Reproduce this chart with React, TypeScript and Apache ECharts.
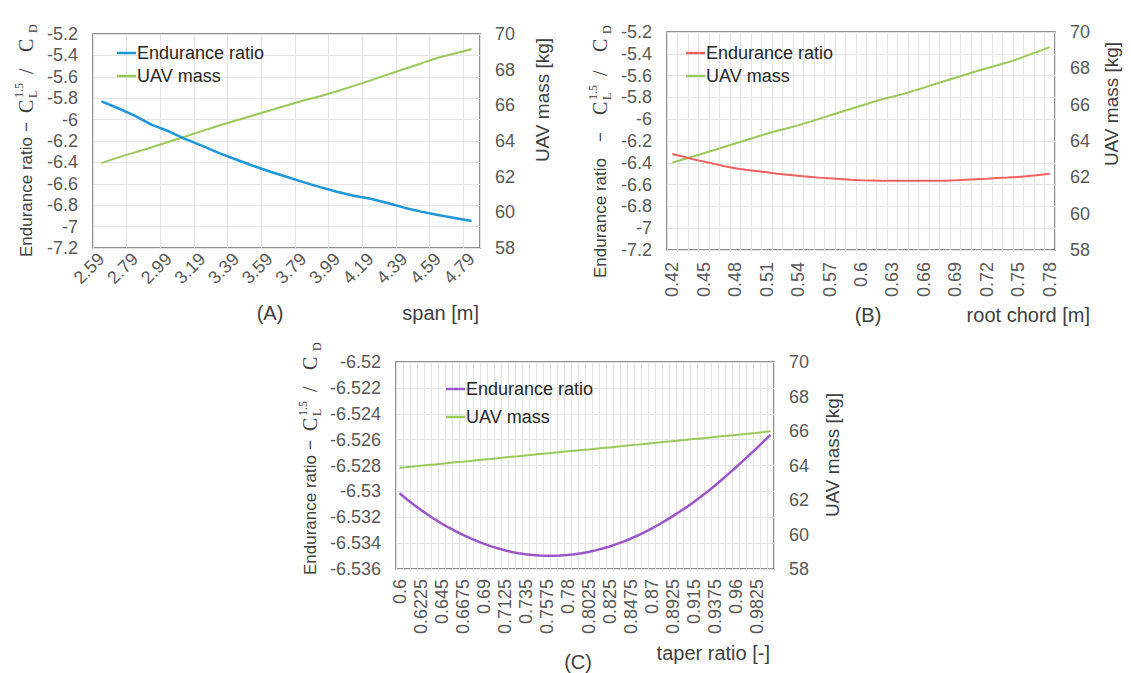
import React, { useEffect, useRef } from "react";
import * as echarts from "echarts";

// ---------- (A) span ----------
const spanCategories = [
  "2.59", "2.69", "2.79", "2.89", "2.99", "3.09", "3.19", "3.29", "3.39", "3.49", "3.59", "3.69",
  "3.79", "3.89", "3.99", "4.09", "4.19", "4.29", "4.39", "4.49", "4.59", "4.69", "4.79",
];
const spanEndurance = [
  -5.829, -5.894, -5.965, -6.049, -6.109, -6.183, -6.245, -6.314, -6.373, -6.431, -6.485, -6.534,
  -6.584, -6.631, -6.674, -6.711, -6.739, -6.78, -6.823, -6.86, -6.892, -6.92, -6.948,
];
const spanMass = [
  62.76, 63.08, 63.36, 63.65, 63.96, 64.25, 64.57, 64.87, 65.15, 65.43, 65.71, 65.99,
  66.27, 66.51, 66.79, 67.09, 67.4, 67.72, 68.04, 68.35, 68.67, 68.91, 69.16,
];

// ---------- (B) root chord ----------
const chordCategories = [
  "0.42", "0.43", "0.44", "0.45", "0.46", "0.47", "0.48", "0.49", "0.5", "0.51", "0.52", "0.53",
  "0.54", "0.55", "0.56", "0.57", "0.58", "0.59", "0.6", "0.61", "0.62", "0.63", "0.64", "0.65",
  "0.66", "0.67", "0.68", "0.69", "0.7", "0.71", "0.72", "0.73", "0.74", "0.75", "0.76", "0.77", "0.78",
];
const chordEndurance = [
  -6.319, -6.343, -6.367, -6.389, -6.41, -6.432, -6.45, -6.463, -6.475, -6.487, -6.5, -6.509,
  -6.518, -6.527, -6.536, -6.542, -6.548, -6.555, -6.56, -6.562, -6.564, -6.564, -6.564, -6.564,
  -6.564, -6.564, -6.564, -6.56, -6.555, -6.55, -6.546, -6.539, -6.535, -6.53, -6.521, -6.512, -6.5,
];
const chordMass = [
  62.81, 62.98, 63.15, 63.33, 63.5, 63.68, 63.86, 64.04, 64.22, 64.4, 64.56, 64.7,
  64.86, 65.04, 65.22, 65.4, 65.58, 65.76, 65.94, 66.12, 66.3, 66.44, 66.58, 66.76,
  66.94, 67.12, 67.3, 67.48, 67.66, 67.84, 68.0, 68.17, 68.33, 68.52, 68.74, 68.95, 69.17,
];

// ---------- (C) taper ratio ----------
const taperCategories = [
  "0.6", "0.6075", "0.615", "0.6225", "0.63", "0.6375", "0.645", "0.6525", "0.66", "0.6675",
  "0.675", "0.6825", "0.69", "0.6975", "0.705", "0.7125", "0.72", "0.7275", "0.735", "0.7425",
  "0.75", "0.7575", "0.765", "0.7725", "0.78", "0.7875", "0.795", "0.8025", "0.81", "0.8175",
  "0.825", "0.8325", "0.84", "0.8475", "0.855", "0.8625", "0.87", "0.8775", "0.885", "0.8925",
  "0.9", "0.9075", "0.915", "0.9225", "0.93", "0.9375", "0.945", "0.9525", "0.96", "0.9675",
  "0.975", "0.9825", "0.99", "0.9975",
];
const taperEndurance = [
  -6.53015, -6.53059, -6.53101, -6.53141, -6.53179, -6.53215, -6.53248, -6.53279, -6.53308, -6.53335,
  -6.5336, -6.53383, -6.53404, -6.53423, -6.5344, -6.53455, -6.53468, -6.53478, -6.53486, -6.53492,
  -6.53496, -6.53498, -6.53498, -6.53496, -6.53492, -6.53486, -6.53478, -6.53468, -6.53456, -6.53442,
  -6.53426, -6.53408, -6.53388, -6.53366, -6.53342, -6.53316, -6.53288, -6.53258, -6.53226, -6.53193,
  -6.53158, -6.53122, -6.53084, -6.53044, -6.53002, -6.52958, -6.52912, -6.52865, -6.52817, -6.52768,
  -6.52718, -6.52667, -6.52615, -6.52563,
];
const taperMass = [
  63.87, 63.9, 63.94, 63.99, 64.03, 64.06, 64.1, 64.15, 64.19, 64.22,
  64.26, 64.31, 64.35, 64.38, 64.42, 64.47, 64.51, 64.54, 64.58, 64.62,
  64.66, 64.7, 64.74, 64.78, 64.82, 64.86, 64.9, 64.93, 64.97, 65.01,
  65.05, 65.09, 65.13, 65.17, 65.21, 65.25, 65.29, 65.33, 65.37, 65.41,
  65.45, 65.49, 65.53, 65.57, 65.61, 65.65, 65.69, 65.73, 65.77, 65.81,
  65.85, 65.89, 65.94, 65.98,
];

// axis ranges
const ratioRangeAB = { min: -7.2, max: -5.2, interval: 0.2 };
const ratioRangeC = { min: -6.536, max: -6.52, interval: 0.002 };
const massRange = { min: 58, max: 70, interval: 2 };

const SANS = "'Liberation Sans', Arial, sans-serif";
const SERIF = "'Liberation Serif', 'Times New Roman', serif";
const TICK = "#595959";
const TITLE = "#404040";
const GREEN = "#9BC85A";

function ratioTitle(cx: number, bottom: number, o: number[]) {
  const [dash, c1, ss, slash, c2, d] = o;
  const base = { fill: TITLE, verticalAlign: "middle", align: "left" };
  return {
    type: "group",
    x: cx,
    y: bottom,
    rotation: Math.PI / 2,
    silent: true,
    children: [
      { type: "text", x: 0, y: 0, style: { ...base, text: "Endurance ratio", fontSize: 17, fontFamily: SANS } },
      { type: "text", x: dash, y: 0, style: { ...base, text: "−", fontSize: 17, fontFamily: SANS } },
      { type: "text", x: c1, y: 0, style: { ...base, text: "C", fontSize: 20, fontFamily: SERIF } },
      { type: "text", x: ss, y: -7, style: { ...base, text: "1.5", fontSize: 12, fontFamily: SERIF } },
      { type: "text", x: ss, y: 7, style: { ...base, text: "L", fontSize: 12, fontFamily: SERIF } },
      { type: "text", x: slash, y: 0, style: { ...base, text: "/", fontSize: 20, fontFamily: SERIF } },
      { type: "text", x: c2, y: 0, style: { ...base, text: "C", fontSize: 20, fontFamily: SERIF } },
      { type: "text", x: d, y: 7, style: { ...base, text: "D", fontSize: 12, fontFamily: SERIF } },
    ],
  };
}

function plainText(x: number, y: number, text: string, align: string, fontSize = 20, rotation = 0) {
  return {
    type: "text",
    x,
    y,
    rotation,
    silent: true,
    style: { text, fontSize, fontFamily: SANS, fill: TITLE, align, verticalAlign: "middle" },
  };
}

function xAxisCfg(gridIndex: number, data: string[], labelInterval: number, splitInterval: number, rotate: number, margin: number) {
  return {
    type: "category",
    gridIndex,
    data,
    boundaryGap: true,
    axisLine: { show: false },
    axisTick: { show: false },
    axisLabel: { interval: labelInterval, rotate, margin, fontSize: 18, color: TICK, fontFamily: SANS },
    splitLine: { show: true, interval: splitInterval, lineStyle: { color: "#e3e3e3", width: 1 } },
  };
}

function leftAxisCfg(gridIndex: number, range: any, digits: number) {
  const f = Math.pow(10, digits);
  return {
    type: "value",
    gridIndex,
    position: "left",
    ...range,
    axisLine: { show: false },
    axisTick: { show: false },
    axisLabel: {
      margin: 15,
      fontSize: 18,
      color: TICK,
      fontFamily: SANS,
      formatter: (v: number) => String(Math.round(v * f) / f),
    },
    splitLine: { show: true, lineStyle: { color: "#e3e3e3", width: 1 } },
  };
}

function rightAxisCfg(gridIndex: number) {
  return {
    type: "value",
    gridIndex,
    position: "right",
    ...massRange,
    axisLine: { show: false },
    axisTick: { show: false },
    axisLabel: { margin: 15, fontSize: 18, color: TICK, fontFamily: SANS },
    splitLine: { show: false },
  };
}

function lineSeries(name: string, idx: number, yIdx: number, data: number[], color: string, width: number) {
  return {
    type: "line",
    name,
    xAxisIndex: idx,
    yAxisIndex: yIdx,
    data,
    symbol: "none",
    showSymbol: false,
    lineStyle: { color, width },
    itemStyle: { color },
    z: yIdx % 2 === 0 ? 3 : 2,
  };
}

function legendCfg(prefix: string, left: number, top: number, gap: number) {
  return {
    left,
    top,
    orient: "vertical",
    padding: 0,
    itemGap: gap,
    itemWidth: 19,
    itemHeight: 2.5,
    icon: "rect",
    selectedMode: false,
    data: [prefix + "|Endurance ratio", prefix + "|UAV mass"],
    formatter: (n: string) => n.split("|")[1],
    textStyle: { fontSize: 18, lineHeight: 20, color: "#262626", fontFamily: SANS, padding: [0, 0, 0, -4] },
  };
}

export default function App() {
  const ref = useRef<HTMLDivElement>(null);

  useEffect(() => {
    if (!ref.current) return;
    const chart = echarts.init(ref.current, undefined, { renderer: "svg" });
    const gridBase = { show: true, borderColor: "#6e6e6e", borderWidth: 1.5, backgroundColor: "#ffffff", containLabel: false };
    chart.setOption({
      animation: false,
      backgroundColor: "#ffffff",
      grid: [
        { ...gridBase, left: 93, top: 34, width: 387, height: 214 },
        { ...gridBase, left: 667, top: 32, width: 388, height: 218 },
        { ...gridBase, left: 396, top: 362, width: 378, height: 207 },
      ],
      xAxis: [
        xAxisCfg(0, spanCategories, 1, 1, 45, 8),
        xAxisCfg(1, chordCategories, 2, 0, 90, 12),
        xAxisCfg(2, taperCategories, 2, 0, 90, 10),
      ],
      yAxis: [
        leftAxisCfg(0, ratioRangeAB, 1),
        rightAxisCfg(0),
        leftAxisCfg(1, ratioRangeAB, 1),
        rightAxisCfg(1),
        leftAxisCfg(2, ratioRangeC, 3),
        rightAxisCfg(2),
      ],
      legend: [
        legendCfg("A", 117, 43, 3),
        legendCfg("B", 686, 43, 3),
        legendCfg("C", 446, 379, 8),
      ],
      series: [
        lineSeries("A|Endurance ratio", 0, 0, spanEndurance, "#1E96D7", 2.5),
        lineSeries("A|UAV mass", 0, 1, spanMass, GREEN, 2),
        lineSeries("B|Endurance ratio", 1, 2, chordEndurance, "#F26060", 2),
        lineSeries("B|UAV mass", 1, 3, chordMass, GREEN, 2),
        lineSeries("C|Endurance ratio", 2, 4, taperEndurance, "#9B55C8", 2.5),
        lineSeries("C|UAV mass", 2, 5, taperMass, GREEN, 2),
      ],
      graphic: [
        ratioTitle(26, 257, [125, 144, 159, 183, 205, 224]),
        ratioTitle(600, 278, [136, 163, 178, 202, 226, 244]),
        ratioTitle(310, 575, [125, 144, 159, 183, 205, 224]),
        plainText(542, 100, "UAV mass [kg]", "center", 19, Math.PI / 2),
        plainText(1111, 104, "UAV mass [kg]", "center", 19, Math.PI / 2),
        plainText(832, 455, "UAV mass [kg]", "center", 19, Math.PI / 2),
        plainText(270, 313, "(A)", "center"),
        plainText(479, 313, "span [m]", "right"),
        plainText(868, 315, "(B)", "center"),
        plainText(1090, 315, "root chord [m]", "right"),
        plainText(578, 662, "(C)", "center"),
        plainText(770, 653, "taper ratio [-]", "right"),
      ],
    });
    return () => chart.dispose();
  }, []);

  return (
    <div
      ref={ref}
      style={{ position: "fixed", left: 0, top: 0, width: 1131, height: 673, background: "#ffffff" }}
    />
  );
}
